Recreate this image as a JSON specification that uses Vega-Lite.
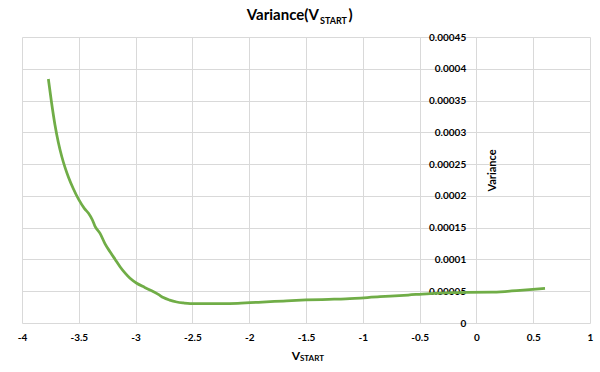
{
  "$schema": "https://vega.github.io/schema/vega-lite/v6.json",
  "width": 568,
  "height": 286,
  "autosize": {"type": "none"},
  "padding": {"left": 22, "top": 37, "right": 10, "bottom": 49},
  "background": "white",
  "config": {"view": {"stroke": null}, "font": "Lato", "axis": {"labelOverlap": false}},
  "resolve": {"axis": {"x": "independent", "y": "independent"}},
  "layer": [
    {
      "data": {
        "values": [
          {"v_start": -3.768, "variance": 0.000384},
          {"v_start": -3.74, "variance": 0.000347},
          {"v_start": -3.71, "variance": 0.000312},
          {"v_start": -3.68, "variance": 0.000284},
          {"v_start": -3.65, "variance": 0.000262},
          {"v_start": -3.62, "variance": 0.000244},
          {"v_start": -3.59, "variance": 0.000229},
          {"v_start": -3.55, "variance": 0.000212},
          {"v_start": -3.5, "variance": 0.000194},
          {"v_start": -3.45, "variance": 0.00018},
          {"v_start": -3.416, "variance": 0.000173},
          {"v_start": -3.38, "variance": 0.000162},
          {"v_start": -3.357, "variance": 0.000152},
          {"v_start": -3.313, "variance": 0.000141},
          {"v_start": -3.27, "variance": 0.000125},
          {"v_start": -3.225, "variance": 0.000112},
          {"v_start": -3.18, "variance": 0.0001},
          {"v_start": -3.137, "variance": 0.0000886},
          {"v_start": -3.09, "variance": 0.000078},
          {"v_start": -3.049, "variance": 0.0000703},
          {"v_start": -2.99, "variance": 0.0000625},
          {"v_start": -2.92, "variance": 0.000056},
          {"v_start": -2.873, "variance": 0.0000519},
          {"v_start": -2.8, "variance": 0.000045},
          {"v_start": -2.756, "variance": 0.00004},
          {"v_start": -2.7, "variance": 0.000036},
          {"v_start": -2.638, "variance": 0.000033},
          {"v_start": -2.58, "variance": 0.0000315},
          {"v_start": -2.52, "variance": 0.0000305},
          {"v_start": -2.4, "variance": 0.0000303},
          {"v_start": -2.286, "variance": 0.0000304},
          {"v_start": -2.1, "variance": 0.000031},
          {"v_start": -1.993, "variance": 0.000032},
          {"v_start": -1.85, "variance": 0.0000332},
          {"v_start": -1.7, "variance": 0.0000346},
          {"v_start": -1.5, "variance": 0.0000362},
          {"v_start": -1.3, "variance": 0.0000372},
          {"v_start": -1.15, "variance": 0.000038},
          {"v_start": -0.849, "variance": 0.0000414},
          {"v_start": -0.6, "variance": 0.000044},
          {"v_start": -0.437, "variance": 0.000046},
          {"v_start": -0.25, "variance": 0.0000474},
          {"v_start": -0.085, "variance": 0.0000483},
          {"v_start": 0.149, "variance": 0.0000485},
          {"v_start": 0.384, "variance": 0.0000515},
          {"v_start": 0.604, "variance": 0.0000546}
        ]
      },
      "mark": {"type": "line", "color": "#70AD47", "strokeWidth": 2.75, "interpolate": "monotone"},
      "encoding": {
        "x": {
          "field": "v_start",
          "type": "quantitative",
          "scale": {"domain": [-4, 1], "nice": false, "zero": false},
          "axis": {
            "title": null,
            "values": [-4, -3.5, -3, -2.5, -2, -1.5, -1, -0.5, 0, 0.5, 1],
            "labelExpr": "'' + datum.value",
            "labelFont": "Lato",
            "labelFontSize": 10,
            "labelFontWeight": "bold",
            "labelColor": "#000000",
            "labelPadding": 9,
            "labelFlush": false,
            "labelOverlap": false,
            "ticks": false,
            "domain": false,
            "grid": true,
            "gridColor": "#d9d9d9",
            "gridWidth": 1
          }
        },
        "y": {
          "field": "variance",
          "type": "quantitative",
          "scale": {"domain": [0, 0.00045], "nice": false, "zero": true},
          "axis": {
            "title": "Variance",
            "values": [0, 0.00005, 0.0001, 0.00015, 0.0002, 0.00025, 0.0003, 0.00035, 0.0004, 0.00045],
            "labelExpr": "format(datum.value, '.5~f')",
            "offset": -454.7,
            "labelFont": "Lato",
            "labelFontSize": 10,
            "labelFontWeight": "bold",
            "labelColor": "#000000",
            "labelPadding": 11,
            "labelOverlap": false,
            "labelFlush": false,
            "ticks": false,
            "domain": false,
            "grid": true,
            "gridColor": "#d9d9d9",
            "gridWidth": 1,
            "titleFont": "Lato",
            "titleFontSize": 11,
            "titleFontWeight": "bold",
            "titleColor": "#000000",
            "titleAngle": -90,
            "titleX": 16,
            "titleY": 133,
            "titleAlign": "center",
            "titleBaseline": "middle"
          }
        }
      }
    },
    {
      "data": {"values": [{}]},
      "mark": {"type": "text", "text": "Variance(V", "align": "right", "baseline": "alphabetic", "font": "Lato", "fontSize": 15, "fontWeight": "bold", "color": "#000000"},
      "encoding": {"x": {"datum": -1.386, "axis": null}, "y": {"datum": 0.0004767, "axis": null}}
    },
    {
      "data": {"values": [{}]},
      "mark": {"type": "text", "text": "START", "align": "left", "baseline": "alphabetic", "font": "Lato", "fontSize": 9, "fontWeight": "bold", "color": "#000000"},
      "encoding": {"x": {"datum": -1.377, "axis": null}, "y": {"datum": 0.0004705, "axis": null}}
    },
    {
      "data": {"values": [{}]},
      "mark": {"type": "text", "text": ")", "align": "left", "baseline": "alphabetic", "font": "Lato", "fontSize": 15, "fontWeight": "bold", "color": "#000000"},
      "encoding": {"x": {"datum": -1.125, "axis": null}, "y": {"datum": 0.0004767, "axis": null}}
    },
    {
      "data": {"values": [{}]},
      "mark": {"type": "text", "text": "V", "align": "right", "baseline": "alphabetic", "font": "Lato", "fontSize": 12, "fontWeight": "bold", "color": "#000000"},
      "encoding": {"x": {"datum": -1.553, "axis": null}, "y": {"datum": -0.0000582, "axis": null}}
    },
    {
      "data": {"values": [{}]},
      "mark": {"type": "text", "text": "START", "align": "left", "baseline": "alphabetic", "font": "Lato", "fontSize": 8, "fontWeight": "bold", "color": "#000000"},
      "encoding": {"x": {"datum": -1.553, "axis": null}, "y": {"datum": -0.0000598, "axis": null}}
    }
  ]
}
